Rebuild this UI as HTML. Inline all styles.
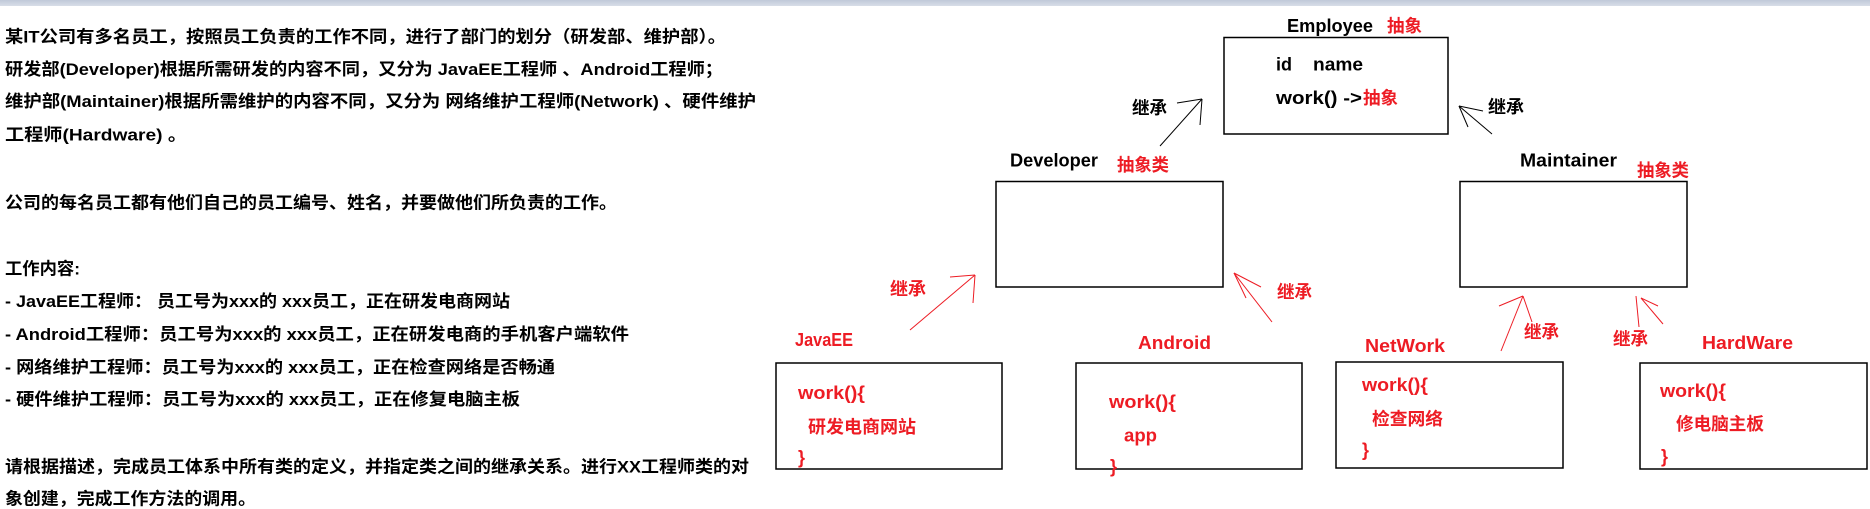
<!DOCTYPE html>
<html>
<head>
<meta charset="utf-8">
<style>
  html,body{margin:0;padding:0;background:#fff;}
  body{width:1870px;height:509px;overflow:hidden;}
  svg{display:block;}
  .t{font-family:"Liberation Sans","Noto Sans CJK SC",sans-serif;font-weight:bold;white-space:pre;}
  .c{font-family:"Noto Sans CJK SC","Liberation Sans",sans-serif;font-weight:bold;white-space:pre;}
</style>
</head>
<body>
<svg width="1870" height="509" viewBox="0 0 1870 509" xmlns="http://www.w3.org/2000/svg">
  <defs>
    <linearGradient id="g" x1="0" y1="0" x2="0" y2="1">
      <stop offset="0" stop-color="#c0c9d9"/>
      <stop offset="1" stop-color="#d8dee8"/>
    </linearGradient>
  </defs>
  <rect x="0" y="0" width="1870" height="509" fill="#ffffff"/>
  <rect x="0" y="0" width="1870" height="6" fill="url(#g)"/>

  <!-- Left description text -->
  <g class="t" font-size="17" fill="#000">
    <text x="5" y="42.3" textLength="721" lengthAdjust="spacingAndGlyphs">某IT公司有多名员工，按照员工负责的工作不同，进行了部门的划分（研发部、维护部）。</text>
    <text x="5" y="74.8" textLength="718" lengthAdjust="spacingAndGlyphs">研发部(Developer)根据所需研发的内容不同，又分为 JavaEE工程师 、Android工程师；</text>
    <text x="5" y="107" textLength="751" lengthAdjust="spacingAndGlyphs">维护部(Maintainer)根据所需维护的内容不同，又分为 网络维护工程师(Network) 、硬件维护</text>
    <text x="5" y="140.3" textLength="182" lengthAdjust="spacingAndGlyphs">工程师(Hardware) 。</text>
    <text x="5" y="208.3" textLength="612" lengthAdjust="spacingAndGlyphs">公司的每名员工都有他们自己的员工编号、姓名，并要做他们所负责的工作。</text>
    <text x="5" y="274.6" textLength="75" lengthAdjust="spacingAndGlyphs">工作内容:</text>
    <text x="5" y="306.8" textLength="505" lengthAdjust="spacingAndGlyphs">- JavaEE工程师：  员工号为xxx的 xxx员工，正在研发电商网站</text>
    <text x="5" y="339.8" textLength="624" lengthAdjust="spacingAndGlyphs">- Android工程师：员工号为xxx的 xxx员工，正在研发电商的手机客户端软件</text>
    <text x="5" y="372.8" textLength="550" lengthAdjust="spacingAndGlyphs">- 网络维护工程师：员工号为xxx的 xxx员工，正在检查网络是否畅通</text>
    <text x="5" y="404.8" textLength="515" lengthAdjust="spacingAndGlyphs">- 硬件维护工程师：员工号为xxx的 xxx员工，正在修复电脑主板</text>
    <text x="5" y="472.3" textLength="744" lengthAdjust="spacingAndGlyphs">请根据描述，完成员工体系中所有类的定义，并指定类之间的继承关系。进行XX工程师类的对</text>
    <text x="5" y="504.3" textLength="251" lengthAdjust="spacingAndGlyphs">象创建，完成工作方法的调用。</text>
  </g>

  <!-- Boxes -->
  <g fill="none" stroke="#000" stroke-width="1.5">
    <rect x="1224" y="37.5" width="224" height="96.5"/>
    <rect x="996" y="181.5" width="227" height="105.5"/>
    <rect x="1460" y="181.5" width="227" height="105.5"/>
    <rect x="776" y="363" width="226" height="106"/>
    <rect x="1076" y="363" width="226" height="106"/>
    <rect x="1336" y="362" width="227" height="106"/>
    <rect x="1640" y="363" width="227" height="106"/>
  </g>

  <!-- Black arrows -->
  <g stroke="#000" stroke-width="1" fill="none">
    <line x1="1202" y1="99" x2="1160" y2="146"/>
    <line x1="1202" y1="99" x2="1177" y2="103"/>
    <line x1="1202" y1="99" x2="1200" y2="125"/>
    <line x1="1459" y1="106" x2="1492" y2="134"/>
    <line x1="1459" y1="106" x2="1483" y2="111"/>
    <line x1="1459" y1="106" x2="1468" y2="127"/>
  </g>

  <!-- Red arrows -->
  <g stroke="#ed1c24" stroke-width="1" fill="none">
    <line x1="975" y1="275" x2="910" y2="330"/>
    <line x1="975" y1="275" x2="950" y2="277"/>
    <line x1="975" y1="275" x2="973" y2="303"/>
    <line x1="1234" y1="273" x2="1272" y2="322"/>
    <line x1="1234" y1="273" x2="1261" y2="287"/>
    <line x1="1234" y1="273" x2="1246" y2="298"/>
    <line x1="1523" y1="296" x2="1501" y2="351"/>
    <line x1="1523" y1="296" x2="1499" y2="306"/>
    <line x1="1523" y1="296" x2="1532" y2="322"/>
    <line x1="1636" y1="296" x2="1639" y2="327"/>
    <line x1="1641" y1="298" x2="1658" y2="306"/>
    <line x1="1641" y1="298" x2="1663" y2="324"/>
  </g>

  <!-- Black diagram labels -->
  <g class="t" font-size="18" fill="#000">
    <text x="1287" y="32" textLength="86" lengthAdjust="spacingAndGlyphs">Employee</text>
    <text x="1276" y="70.7" textLength="16" lengthAdjust="spacingAndGlyphs">id</text>
    <text x="1313" y="70.7" textLength="50" lengthAdjust="spacingAndGlyphs">name</text>
    <text x="1276" y="104" textLength="86" lengthAdjust="spacingAndGlyphs">work() -&gt;</text>
    <text x="1010" y="166.7" textLength="88" lengthAdjust="spacingAndGlyphs">Developer</text>
    <text x="1520" y="166.7" textLength="97" lengthAdjust="spacingAndGlyphs">Maintainer</text>
  </g>
  <g class="c" font-size="17.5" fill="#000">
    <text x="1132" y="114" textLength="35" lengthAdjust="spacingAndGlyphs">继承</text>
    <text x="1488" y="113" textLength="36" lengthAdjust="spacingAndGlyphs">继承</text>
  </g>

  <!-- Red CJK labels -->
  <g class="c" font-size="17.5" fill="#ed1c24">
    <text x="1387" y="32" textLength="35" lengthAdjust="spacingAndGlyphs">抽象</text>
    <text x="1363" y="104" textLength="35" lengthAdjust="spacingAndGlyphs">抽象</text>
    <text x="1117" y="171" textLength="52" lengthAdjust="spacingAndGlyphs">抽象类</text>
    <text x="1637" y="176.5" textLength="52" lengthAdjust="spacingAndGlyphs">抽象类</text>
    <text x="890" y="295" textLength="36" lengthAdjust="spacingAndGlyphs">继承</text>
    <text x="1277" y="298" textLength="35" lengthAdjust="spacingAndGlyphs">继承</text>
    <text x="1524" y="338" textLength="35" lengthAdjust="spacingAndGlyphs">继承</text>
    <text x="1613" y="345" textLength="35" lengthAdjust="spacingAndGlyphs">继承</text>
    <text x="808" y="433" textLength="108" lengthAdjust="spacingAndGlyphs">研发电商网站</text>
    <text x="1372" y="425" textLength="71" lengthAdjust="spacingAndGlyphs">检查网络</text>
    <text x="1676" y="430" textLength="88" lengthAdjust="spacingAndGlyphs">修电脑主板</text>
  </g>

  <!-- Red Latin labels -->
  <g class="t" font-size="18" fill="#ed1c24">
    <text x="795" y="346" textLength="58" lengthAdjust="spacingAndGlyphs">JavaEE</text>
    <text x="1138" y="349" textLength="73" lengthAdjust="spacingAndGlyphs">Android</text>
    <text x="1365" y="352" textLength="80" lengthAdjust="spacingAndGlyphs">NetWork</text>
    <text x="1702" y="349" textLength="91" lengthAdjust="spacingAndGlyphs">HardWare</text>

    <text x="798" y="399" textLength="67" lengthAdjust="spacingAndGlyphs">work(){</text>
    <text x="798" y="463.5">}</text>

    <text x="1109" y="408" textLength="67" lengthAdjust="spacingAndGlyphs">work(){</text>
    <text x="1124" y="441.5" textLength="33" lengthAdjust="spacingAndGlyphs">app</text>
    <text x="1110" y="472.5">}</text>

    <text x="1362" y="391" textLength="66" lengthAdjust="spacingAndGlyphs">work(){</text>
    <text x="1362" y="456">}</text>

    <text x="1660" y="397" textLength="66" lengthAdjust="spacingAndGlyphs">work(){</text>
    <text x="1661" y="462.5">}</text>
  </g>
</svg>
</body>
</html>
